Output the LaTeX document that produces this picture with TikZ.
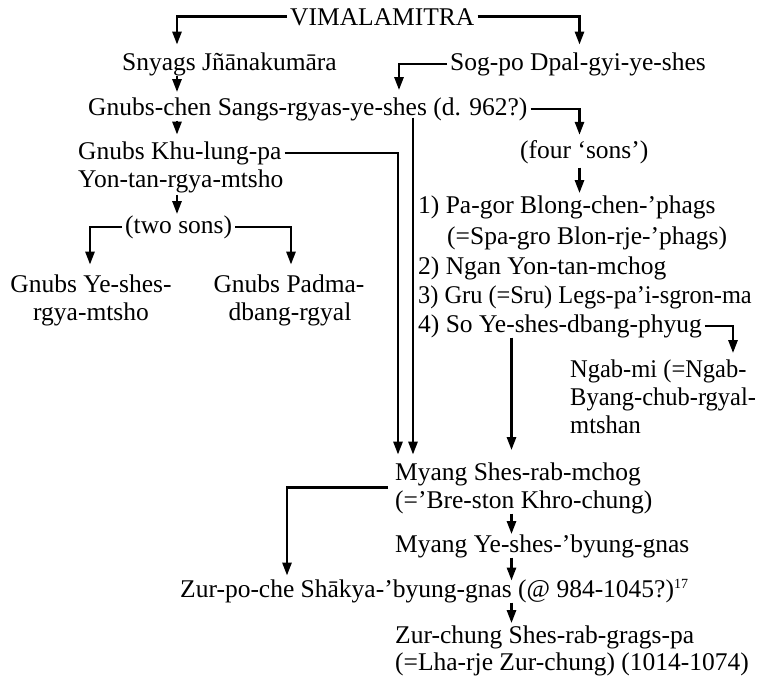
\documentclass[tikz,border=0pt]{standalone}
\usepackage{fontspec}
\setmainfont{Liberation Serif}
\usetikzlibrary{arrows.meta}
\begin{document}
\begin{tikzpicture}[x=1pt,y=-1pt,
  txt/.style={anchor=base west,inner xsep=3pt,inner ysep=0pt,font=\fontsize{25.5}{29}\selectfont},
  ctxt/.style={txt,anchor=base},
  conn/.style={line width=2.6pt},
  arr/.style={conn,-{Triangle[length=13pt,width=9pt]}},
]
\useasboundingbox (0,0) rectangle (763,681);
% column coordinates
\coordinate (cA) at (177,0);
\coordinate (cB) at (579.5,0);
\coordinate (cSog) at (399,0);
\coordinate (cKhu) at (398,0);
\coordinate (cGc) at (413,0);
\coordinate (cYe) at (90,0);
\coordinate (cPad) at (291,0);
\coordinate (cN) at (733,0);
\coordinate (cD) at (511.5,0);
\coordinate (cE) at (287,0);
% nodes
\node[txt] (vim) at (287,25) {VIMALAMITRA};
\node[txt] (snyags) at (119,70) {Snyags Jñānakumāra};
\node[txt] (sogpo) at (447,70) {Sog-po Dpal-gyi-ye-shes};
\node[txt] (gnubschen) at (85,115) {Gnubs-chen Sangs-rgyas-ye-shes (d. 962?)};
\node[txt] (khu) at (75,159) {Gnubs Khu-lung-pa};
\node[txt] (yon) at (75,187) {Yon-tan-rgya-mtsho};
\node[txt] (twosons) at (122,233) {(two sons)};
\node[ctxt] (ye1) at (91,292) {Gnubs Ye-shes-};
\node[ctxt] (ye2) at (91,320) {rgya-mtsho};
\node[ctxt] (pad1) at (289,292) {Gnubs Padma-};
\node[ctxt] (pad2) at (290,320) {dbang-rgyal};
\node[txt] (foursons) at (517,158) {(four ‘sons’)};
\node[txt] (s1) at (415,213) {1) Pa-gor Blong-chen-’phags};
\node[txt] (s1b) at (444,244) {(=Spa-gro Blon-rje-’phags)};
\node[txt] (s2) at (415,274) {2) Ngan Yon-tan-mchog};
\node[txt] (s3) at (415,303) {\scalebox{0.955}[1]{3) Gru (=Sru) Legs-pa’i-sgron-ma}};
\node[txt] (s4) at (415,332) {4) So Ye-shes-dbang-phyug};
\node[txt] (ngab1) at (567,377) {\scalebox{0.96}[1]{Ngab-mi (=Ngab-}};
\node[txt] (ngab2) at (567,405) {\scalebox{0.96}[1]{Byang-chub-rgyal-}};
\node[txt] (ngab3) at (567,433) {\scalebox{0.96}[1]{mtshan}};
\node[txt] (myang) at (392,480) {Myang Shes-rab-mchog};
\node[txt] (bre) at (392,508) {(=’Bre-ston Khro-chung)};
\node[txt] (myangye) at (392,552) {Myang Ye-shes-’byung-gnas};
\node[txt] (zurpo) at (177,597) {Zur-po-che Shākya-’byung-gnas (@ 984-1045?)\raisebox{9pt}{\fontsize{14}{14}\selectfont 17}};
\node[txt] (zurchung) at (392,643) {Zur-chung Shes-rab-grags-pa};
\node[txt] (lharje) at (392,670) {(=Lha-rje Zur-chung) (1014-1074)};
% connectors
\draw[arr,shorten >=7.5pt] (vim.west) -| (cA |- snyags.north);
\draw[arr,shorten >=7.5pt] (vim.east) -| (cB |- sogpo.north);
\draw[arr,shorten >=5pt] (cA |- snyags.south) -- (cA |- gnubschen.north);
\draw[arr,shorten >=7pt] (sogpo.west) -| (cSog |- gnubschen.north);
\draw[arr,shorten >=5pt] (gnubschen.east) -| (cB |- foursons.north);
\draw[arr,shorten >=6.5pt] (cA |- gnubschen.south) -- (cA |- khu.north);
\draw[arr,shorten >=7.5pt] ([yshift=3pt]cGc |- gnubschen.south) -- (cGc |- myang.north);
\draw[arr,shorten >=7.5pt] (khu.east) -| (cKhu |- myang.north);
\draw[arr,shorten >=1pt] ([yshift=-2pt]cA |- yon.south) -- (cA |- twosons.north);
\draw[arr,shorten >=9.5pt] (twosons.west) -| (cYe |- ye1.north);
\draw[arr,shorten >=9.5pt] (twosons.east) -| (cPad |- pad1.north);
\draw[arr,shorten >=2pt] ([yshift=-4pt]cB |- foursons.south) -- (cB |- s1.north);
\draw[arr,shorten >=6pt] (s4.east) -| (cN |- ngab1.north);
\draw[arr,shorten >=12pt] (cD |- s4.south) -- (cD |- myang.north);
\draw[arr,shorten >=3pt] ([xshift=-4pt,yshift=-1.5pt]myang.south west) -| (cE |- zurpo.north);
\draw[arr,shorten >=0pt] (cD |- bre.south) -- (cD |- myangye.north);
\draw[arr,shorten >=-2pt] (cD |- myangye.south) -- (cD |- zurpo.north);
\draw[arr,shorten >=2pt] (cD |- zurpo.south) -- (cD |- zurchung.north);
\end{tikzpicture}
\end{document}
